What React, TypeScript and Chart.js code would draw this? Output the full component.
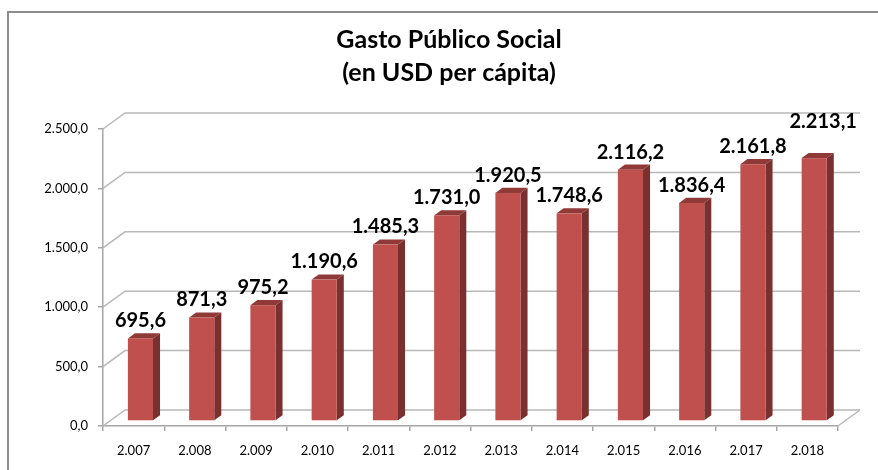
import React, { useEffect, useRef } from "react";
import { Chart, registerables } from "chart.js";

Chart.register(...registerables);

const categories = ["2.007", "2.008", "2.009", "2.010", "2.011", "2.012", "2.013", "2.014", "2.015", "2.016", "2.017", "2.018"];
const values = [695.6, 871.3, 975.2, 1190.6, 1485.3, 1731.0, 1920.5, 1748.6, 2116.2, 1836.4, 2161.8, 2213.1];
const titleLines = ["Gasto Público Social", "(en USD per cápita)"];
const yMin = 0;
const yMax = 2500;
const yStep = 500;

function fmt(v: number): string {
  const [i, d] = v.toFixed(1).split(".");
  return i.replace(/\B(?=(\d{3})+(?!\d))/g, ".") + "," + d;
}

const DX = 22;
const DY = -16;
const F0 = 0.31;
const F1 = 0.63;

const threeD = {
  id: "threeD",
  beforeDraw(chart: any) {
    const ctx = chart.ctx;
    ctx.save();
    ctx.fillStyle = "#ffffff";
    ctx.fillRect(0, 0, chart.width, chart.height);
    ctx.fillStyle = "#8c8c8c";
    ctx.fillRect(7, 11, chart.width, 2);
    ctx.fillRect(7, 11, 2, chart.height);
    ctx.fillStyle = "#000000";
    ctx.font = "bold 25px Lato";
    ctx.textAlign = "center";
    ctx.textBaseline = "alphabetic";
    ctx.fillText(titleLines[0], 449, 48);
    ctx.fillText(titleLines[1], 449, 81);
    ctx.restore();
  },
  beforeDatasetsDraw(chart: any) {
    const ctx = chart.ctx;
    const a = chart.chartArea;
    const y = chart.scales.y;
    ctx.save();
    ctx.strokeStyle = "#b8b8b8";
    ctx.lineWidth = 1.5;
    y.ticks.forEach((t: any) => {
      const py = y.getPixelForValue(t.value);
      ctx.beginPath();
      ctx.moveTo(a.left, py);
      ctx.lineTo(a.left + DX, py + DY);
      ctx.lineTo(a.right + DX, py + DY);
      ctx.stroke();
    });
    ctx.beginPath();
    ctx.moveTo(a.right, a.bottom);
    ctx.lineTo(a.right + DX, a.bottom + DY);
    ctx.stroke();

    const meta = chart.getDatasetMeta(0);
    const ddx = (F1 - F0) * DX;
    const ddy = (F1 - F0) * DY;
    meta.data.forEach((el: any) => {
      const p = el.getProps(["x", "y", "base", "width"], true);
      const l = p.x - p.width / 2 + F0 * DX;
      const r = p.x + p.width / 2 + F0 * DX;
      const t = p.y + F0 * DY;
      const b = p.base + F0 * DY;
      ctx.fillStyle = "#7a302e";
      ctx.beginPath();
      ctx.moveTo(r, t);
      ctx.lineTo(r + ddx, t + ddy);
      ctx.lineTo(r + ddx, b + ddy);
      ctx.lineTo(r, b);
      ctx.closePath();
      ctx.fill();
      ctx.fillStyle = "#8f3a37";
      ctx.beginPath();
      ctx.moveTo(l, t);
      ctx.lineTo(l + ddx, t + ddy);
      ctx.lineTo(r + ddx, t + ddy);
      ctx.lineTo(r, t);
      ctx.closePath();
      ctx.fill();
      ctx.fillStyle = "#c0504d";
      ctx.fillRect(l, t, r - l, b - t);
    });
    ctx.restore();
  },
  afterDatasetsDraw(chart: any) {
    const ctx = chart.ctx;
    const meta = chart.getDatasetMeta(0);
    const n = meta.data.length;
    ctx.save();
    ctx.fillStyle = "#000000";
    ctx.font = "bold 20px Lato";
    ctx.textAlign = "center";
    ctx.textBaseline = "alphabetic";
    meta.data.forEach((el: any, i: number) => {
      const p = el.getProps(["x", "y"], true);
      const cx = p.x + F0 * DX;
      const topBack = p.y + F1 * DY;
      const lift = i === n - 1 ? 25 : 6;
      const shift = i === n - 1 ? 9 : 0;
      ctx.fillText(fmt(values[i]), cx + shift, topBack - lift);
    });
    ctx.restore();
  },
};

export default function App() {
  const ref = useRef<HTMLCanvasElement | null>(null);
  useEffect(() => {
    if (!ref.current) return;
    const chart = new Chart(ref.current, {
      type: "bar",
      data: {
        labels: categories,
        datasets: [
          {
            data: values,
            backgroundColor: "rgba(0,0,0,0)",
            borderWidth: 0,
            barPercentage: 0.41,
            categoryPercentage: 1,
          },
        ],
      },
      options: {
        responsive: false,
        animation: false,
        layout: { padding: { top: 129, right: 40, left: 0, bottom: 0 } },
        plugins: {
          legend: { display: false },
          tooltip: { enabled: false },
          title: { display: false },
        },
        scales: {
          x: {
            grid: { drawOnChartArea: false, offset: true, tickLength: 5, color: "#a6a6a6", lineWidth: 1.5 },
            border: { color: "#a6a6a6", width: 1.5 },
            ticks: { font: { family: "Lato", size: 13 }, color: "#000000", padding: 12, maxRotation: 0 },
            afterFit(s: any) {
              s.height = 44;
            },
          },
          y: {
            min: yMin,
            max: yMax,
            ticks: {
              stepSize: yStep,
              callback: (v: any) => fmt(Number(v)),
              font: { family: "Lato", size: 13 },
              color: "#000000",
              padding: 10,
            },
            grid: { drawOnChartArea: false, tickLength: 5, color: "#a6a6a6", lineWidth: 1.5 },
            border: { color: "#a6a6a6", width: 1.5 },
            afterFit(s: any) {
              s.width = 103;
            },
          },
        },
      },
      plugins: [threeD],
    });
    return () => chart.destroy();
  }, []);
  return (
    <div style={{ position: "fixed", left: 0, top: 0, width: 878, height: 470, background: "#fff" }}>
      <canvas ref={ref} width={878} height={470} style={{ display: "block" }} />
    </div>
  );
}
